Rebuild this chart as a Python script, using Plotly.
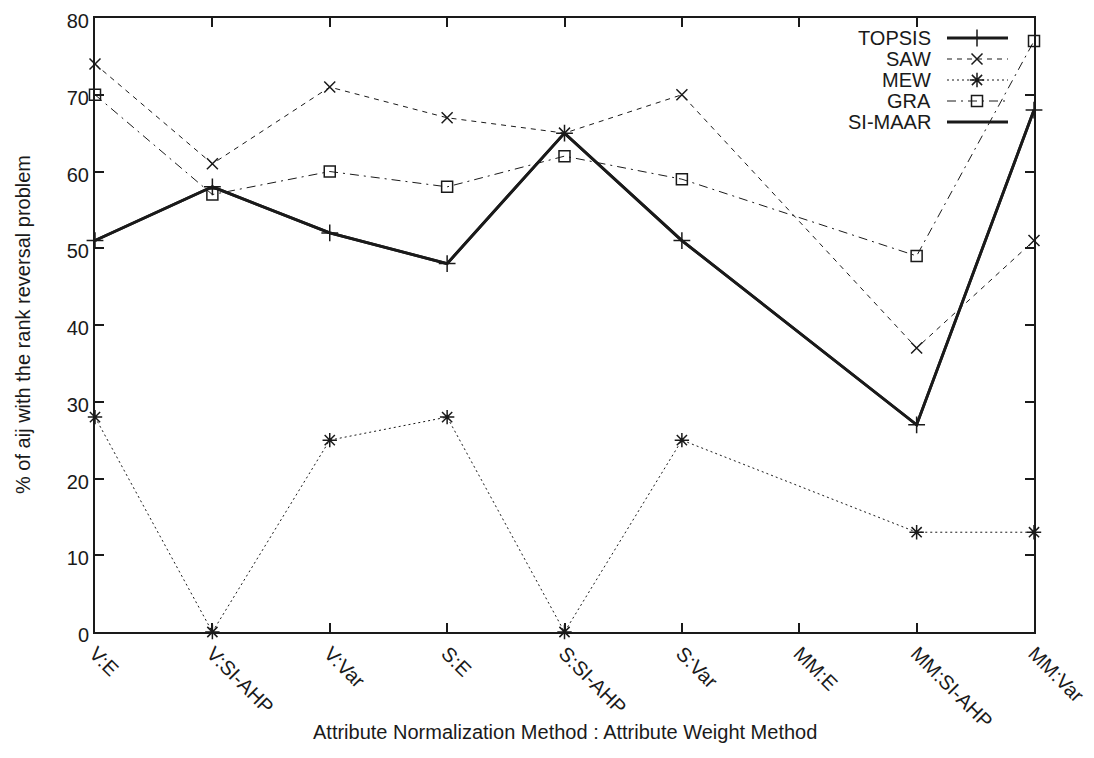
import plotly.graph_objects as go

categories = ["V:E", "V:SI-AHP", "V:Var", "S:E", "S:SI-AHP", "S:Var", "MM:E", "MM:SI-AHP", "MM:Var"]
topsis = [51, 58, 52, 48, 65, 51, None, 27, 68]
saw = [74, 61, 71, 67, 65, 70, None, 37, 51]
mew = [28, 0, 25, 28, 0, 25, None, 13, 13]
gra = [70, 57, 60, 58, 62, 59, None, 49, 77]
si_maar = [51, 58, 52, 48, 65, 51, None, 27, 68]
y_ticks = [0, 10, 20, 30, 40, 50, 60, 70, 80]

FONT = "Liberation Sans, Arial, Helvetica, sans-serif"
BLACK = "#1a1a1a"
FS = 20

series = [
    ("TOPSIS", topsis, "solid", 2.8, "cross-thin-open", 12),
    ("SAW", saw, "5px,5px", 1, "x-thin-open", 11),
    ("MEW", mew, "2px,3px", 1, "asterisk-open", 12),
    ("GRA", gra, "9px,5px,2px,5px", 1, "square-open", 11),
    ("SI-MAAR", si_maar, "solid", 2.8, None, 0),
]

OFF = 8  # page body margin
L, R, T, B = 95 - OFF, 1034 - OFF, 18 - OFF, 632 - OFF
PW, PH = R - L, B - T


def px(x):
    return (x - OFF - L) / PW


def py(y):
    return (B - (y - OFF)) / PH


fig = go.Figure()
for name, vals, dash, width, sym, size in series:
    fig.add_trace(go.Scatter(
        x=categories, y=vals, name=name, connectgaps=True,
        mode="lines+markers" if sym else "lines",
        line=dict(color=BLACK, width=width, dash=dash),
        marker=dict(symbol=sym, size=size, color=BLACK, line=dict(color=BLACK, width=1.5)) if sym else None,
        showlegend=False, cliponaxis=False,
    ))

# gnuplot-style key: text right-aligned, sample to the right
for i, (name, vals, dash, width, sym, size) in enumerate(series):
    yy = py(38 + 21 * i)
    fig.add_annotation(x=px(933), y=yy, xref="paper", yref="paper", text=name,
                       showarrow=False, xanchor="right", yanchor="middle",
                       font=dict(family=FONT, size=FS, color=BLACK))
    fig.add_shape(type="line", xref="paper", yref="paper",
                  x0=px(947), x1=px(1008), y0=yy, y1=yy,
                  line=dict(color=BLACK, width=width, dash=dash))
    if sym:
        fig.add_trace(go.Scatter(x=[px(977)], y=[yy], xaxis="x2", yaxis="y2", mode="markers",
                                 marker=dict(symbol=sym, size=size, color=BLACK, line=dict(color=BLACK, width=1.5)),
                                 showlegend=False, hoverinfo="skip", cliponaxis=False))

# axis titles
fig.add_annotation(x=0.5, y=py(732), xref="paper", yref="paper",
                   text="Attribute Normalization Method : Attribute Weight Method", showarrow=False,
                   xanchor="center", yanchor="middle", font=dict(family=FONT, size=FS, color=BLACK))
fig.add_annotation(x=px(23), y=0.5, xref="paper", yref="paper",
                   text="% of aij with the rank reversal problem", showarrow=False, textangle=-90,
                   xanchor="center", yanchor="middle", font=dict(family=FONT, size=FS, color=BLACK))

fig.update_layout(
    width=1094, height=758,
    margin=dict(l=L, r=1094 - R, t=T, b=758 - B, autoexpand=False),
    paper_bgcolor="white", plot_bgcolor="white",
    font=dict(family=FONT, size=FS, color=BLACK),
    showlegend=False,
    xaxis=dict(
        type="category", categoryorder="array", categoryarray=categories,
        range=[0, 8], showgrid=False, zeroline=False, automargin=False,
        showline=True, linecolor=BLACK, linewidth=2, mirror="ticks",
        ticks="inside", ticklen=9, tickwidth=1.5, tickcolor=BLACK,
        tickangle=45, tickfont=dict(family=FONT, size=FS, color=BLACK),
        ticklabeloverflow="allow",
    ),
    yaxis=dict(
        range=[0, 80], tickvals=y_ticks, showgrid=False, zeroline=False, automargin=False,
        showline=True, linecolor=BLACK, linewidth=2, mirror="ticks",
        ticks="inside", ticklen=9, tickwidth=1.5, tickcolor=BLACK,
        tickfont=dict(family=FONT, size=FS, color=BLACK),
        ticklabeloverflow="allow", ticklabelshift=3,
    ),
    xaxis2=dict(overlaying="x", range=[0, 1], visible=False, anchor="y2"),
    yaxis2=dict(overlaying="y", range=[0, 1], visible=False),
)

fig.write_html("out.html")
